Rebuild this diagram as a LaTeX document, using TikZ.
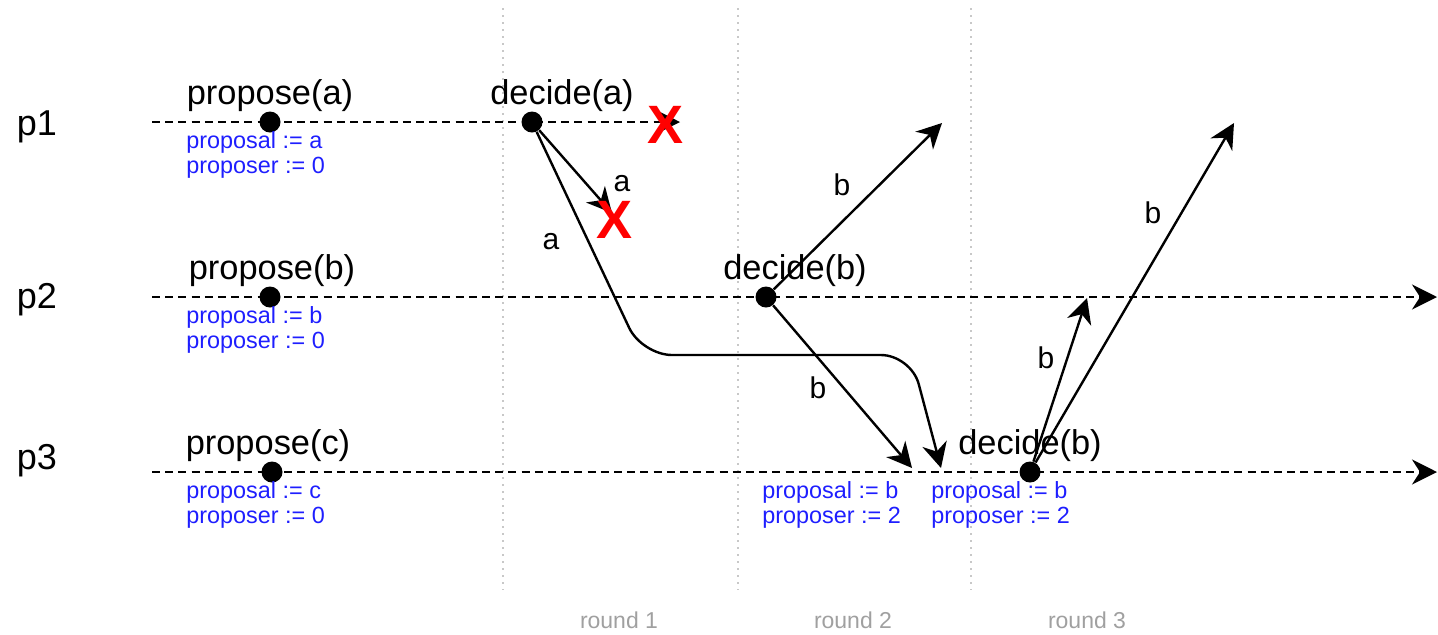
\documentclass[tikz,border=0pt]{standalone}
\usepackage{fontspec}
\setmainfont{Liberation Sans}
\usetikzlibrary{arrows.meta}
\definecolor{bluetxt}{RGB}{30,30,255}
\definecolor{roundgray}{RGB}{160,160,160}
\definecolor{gridgray}{RGB}{200,200,200}
\tikzset{
  big/.style={font=\fontsize{17.2}{20}\selectfont, inner sep=0pt},
  plbl/.style={font=\fontsize{18}{20}\selectfont, inner sep=0pt},
  lbl/.style={font=\fontsize{15}{18}\selectfont, inner sep=0pt},
  state/.style={font=\fontsize{11.7}{12.3}\selectfont, text=bluetxt, align=left, anchor=west, inner sep=0pt},
  roundlbl/.style={font=\fontsize{11.5}{13}\selectfont, text=roundgray, inner sep=0pt},
  dot/.style={circle, fill=black, minimum size=10.5pt, inner sep=0pt},
  tip/.style={-{Stealth[length=12.5pt, width=12.5pt, inset=4pt]}},
  timeline/.style={line width=1.2pt, dash pattern=on 4pt off 2.6pt, tip},
  arr/.style={line width=1.2pt, tip},
  grid/.style={gridgray, line width=1pt, dash pattern=on 1pt off 2.5pt},
  cross/.style={text=red, font=\fontsize{27}{30}\selectfont\bfseries, inner sep=0pt},
}
\begin{document}
\begin{tikzpicture}[x=0.5pt,y=-0.5pt]
\useasboundingbox (0,0) rectangle (1438,634);
% round separators
\draw[grid] (503,8) -- (503,590);
\draw[grid] (738,8) -- (738,590);
\draw[grid] (971,8) -- (971,590);
\node[roundlbl] (r1) at (619,620) {round 1};
\node[roundlbl] (r2) at (853,620) {round 2};
\node[roundlbl] (r3) at (1087,620) {round 3};
% process labels
\node[plbl] (p1) at (37,127) {p1};
\node[plbl] (p2) at (37,300) {p2};
\node[plbl] (p3) at (37,461) {p3};
% timelines
\coordinate (s1) at (152,122);
\coordinate (e1) at (680,122);
\coordinate (s2) at (152,297);
\coordinate (e2) at (1437,297);
\coordinate (s3) at (152,472);
\coordinate (e3) at (1437,472);
\draw[timeline] (s1) -- (e1);
\draw[timeline] (s2) -- (e2);
\draw[timeline] (s3) -- (e3);
% propose events
\node[dot] (pa) at (270,122) {};
\node[dot] (pb) at (270,297) {};
\node[dot] (pc) at (272,472) {};
\node[big] (tpa) at (270,96) {propose(a)};
\node[big] (tpb) at (272,271) {propose(b)};
\node[big] (tpc) at (268,446) {propose(c)};
\node[state] (sa) at (186,155) {proposal := a\\proposer := 0};
\node[state] (sb) at (186,330) {proposal := b\\proposer := 0};
\node[state] (sc) at (186,505) {proposal := c\\proposer := 0};
% decide events
\node[dot] (da) at (532,122) {};
\node[dot] (db) at (766,297) {};
\node[dot] (dc) at (1030,472) {};
\node[big] (tda) at (562,96) {decide(a)};
\node[big] (tdb) at (795,271) {decide(b)};
\node[big] (tdc) at (1030,446) {decide(b)};
\node[state] (s3a) at (762,505) {proposal := b\\proposer := 2};
\node[state] (s3b) at (931,505) {proposal := b\\proposer := 2};
% messages
\coordinate (m1) at (612,213);
\coordinate (m2) at (941,468);
\coordinate (m3) at (942,123);
\coordinate (m4) at (912,468);
\coordinate (m5) at (1087,298);
\coordinate (m6) at (1234,123);
\draw[arr] (da) -- (m1);
\draw[arr, rounded corners=15pt] (da) -- (642,355) -- (911,355) -- (m2);
\draw[arr] (db) -- (m3);
\draw[arr] (db) -- (m4);
\draw[arr] (dc) -- (m5);
\draw[arr] (dc) -- (m6);
\node[lbl] (la1) at (622,184) {a};
\node[lbl] (la2) at (551,242) {a};
\node[lbl] (lb1) at (842,185) {b};
\node[lbl] (lb2) at (818,388) {b};
\node[lbl] (lb3) at (1046,358) {b};
\node[lbl] (lb4) at (1153,213) {b};
% crashes
\node[cross] (x1) at (665,125) {X};
\node[cross] (x2) at (614,220) {X};
\end{tikzpicture}
\end{document}
